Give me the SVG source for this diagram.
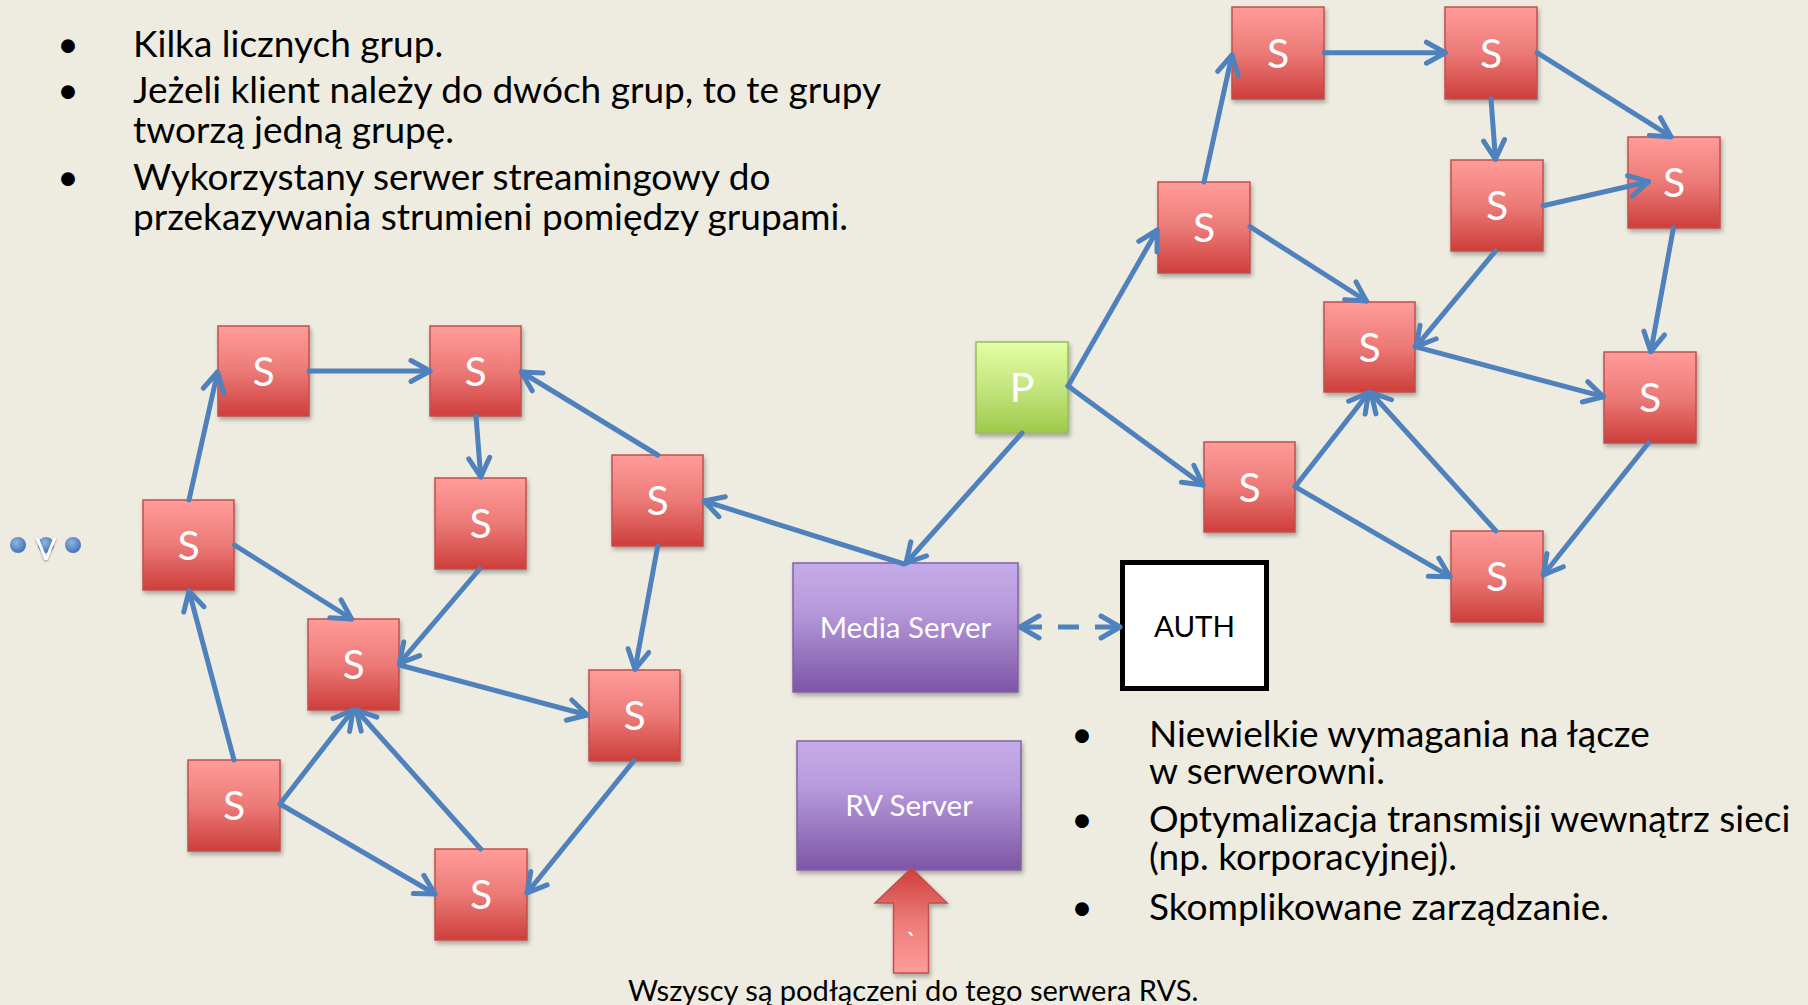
<svg xmlns="http://www.w3.org/2000/svg" width="1808" height="1005" viewBox="0 0 1808 1005">
  <defs>
    <style>
      .txt { font-family: Lato, "Liberation Sans", sans-serif; }
      .bul { font-family: Lato, "Liberation Sans", sans-serif; font-size: 37px; fill: #000; }
      .lbl { font-family: Lato, "Liberation Sans", sans-serif; font-size: 41px; fill: #fff; text-anchor: middle; }
      .srv { font-family: Lato, "Liberation Sans", sans-serif; font-size: 29.5px; fill: #fff; text-anchor: middle; }
      .snode { fill: url(#gRed); stroke: #c0504d; stroke-width: 1.5; filter: url(#shadow); }
      .pnode { fill: url(#gGreen); stroke: #9bbb59; stroke-width: 1.5; filter: url(#shadow); }
      .vnode { fill: url(#gPurple); stroke: #8064a2; stroke-width: 1.5; filter: url(#shadow); }
      .edge { fill: none; stroke: #4f81bd; stroke-width: 5; stroke-linecap: round; marker-end: url(#open); }
      .head { fill: none; stroke: #4f81bd; stroke-width: 5; stroke-linecap: round; stroke-linejoin: round; }
      .dot { fill: url(#gDot); }
    </style>
    <linearGradient id="gRed" x1="0" y1="0" x2="0" y2="1">
      <stop offset="0" stop-color="#ff9c9a"/>
      <stop offset="0.5" stop-color="#ec7a77"/>
      <stop offset="1" stop-color="#cd3e3a"/>
    </linearGradient>
    <linearGradient id="gRedUp" x1="0" y1="0" x2="0" y2="1">
      <stop offset="0" stop-color="#cd3e3a"/>
      <stop offset="0.5" stop-color="#ec7a77"/>
      <stop offset="1" stop-color="#ff9c9a"/>
    </linearGradient>
    <linearGradient id="gGreen" x1="0" y1="0" x2="0" y2="1">
      <stop offset="0" stop-color="#e2ffa4"/>
      <stop offset="0.5" stop-color="#c4e57f"/>
      <stop offset="1" stop-color="#9dca4a"/>
    </linearGradient>
    <linearGradient id="gPurple" x1="0" y1="0" x2="0" y2="1">
      <stop offset="0" stop-color="#c5aae9"/>
      <stop offset="0.35" stop-color="#b89bdc"/>
      <stop offset="1" stop-color="#7d56a6"/>
    </linearGradient>
    <radialGradient id="gDot" cx="0.4" cy="0.35" r="0.7">
      <stop offset="0" stop-color="#8fb4e6"/>
      <stop offset="1" stop-color="#3f6fb0"/>
    </radialGradient>
    <filter id="shadow" x="-10%" y="-10%" width="125%" height="130%">
      <feDropShadow dx="1.5" dy="3" stdDeviation="2" flood-color="#000" flood-opacity="0.3"/>
    </filter>
    <filter id="glyphShadow" x="-30%" y="-30%" width="160%" height="160%">
      <feDropShadow dx="0" dy="1" stdDeviation="1.2" flood-color="#3a4a60" flood-opacity="0.6"/>
    </filter>
    <marker id="open" markerUnits="userSpaceOnUse" orient="auto" overflow="visible" markerWidth="1" markerHeight="1" refX="0" refY="0">
      <path class="head" d="M-19,-10.5 L0,0 L-19,10.5"/>
    </marker>
    <marker id="openBoth" markerUnits="userSpaceOnUse" orient="auto-start-reverse" overflow="visible" markerWidth="1" markerHeight="1" refX="0" refY="0">
      <path class="head" d="M-19,-11 L0,0 L-19,11"/>
    </marker>
  </defs>

  <rect x="0" y="0" width="1808" height="1005" fill="#eeece1"/>

  <!-- upper-left bullet list -->
  <g id="notes-top" class="bul">
    <text x="68" y="57" text-anchor="middle">•</text>
    <text x="133" y="57">Kilka licznych grup.</text>
    <text x="68" y="103" text-anchor="middle">•</text>
    <text x="133" y="103">Jeżeli klient należy do dwóch grup, to te grupy</text>
    <text x="133" y="143">tworzą jedną grupę.</text>
    <text x="68" y="190" text-anchor="middle">•</text>
    <text x="133" y="190">Wykorzystany serwer streamingowy do</text>
    <text x="133" y="230">przekazywania strumieni pomiędzy grupami.</text>
  </g>

  <!-- lower-right bullet list -->
  <g id="notes-bottom" class="bul">
    <text x="1082" y="747" text-anchor="middle">•</text>
    <text x="1149" y="747">Niewielkie wymagania na łącze</text>
    <text x="1149" y="784">w serwerowni.</text>
    <text x="1082" y="832" text-anchor="middle">•</text>
    <text x="1149" y="832">Optymalizacja transmisji wewnątrz sieci</text>
    <text x="1149" y="870">(np. korporacyjnej).</text>
    <text x="1082" y="920" text-anchor="middle">•</text>
    <text x="1149" y="920">Skomplikowane zarządzanie.</text>
  </g>

  <!-- ellipsis marker on the left edge -->
  <g id="ellipsis">
    <circle class="dot" cx="18" cy="545" r="8"/>
    <circle class="dot" cx="46" cy="545" r="8"/>
    <circle class="dot" cx="73" cy="545" r="8"/>
    <text class="txt" x="46" y="560" font-size="31" fill="#fff" text-anchor="middle" filter="url(#glyphShadow)">V</text>
  </g>

  <!-- left cluster nodes -->
  <g id="s-a"><rect class="snode" x="218" y="326" width="91" height="90"/><text class="lbl" x="263.5" y="386">S</text></g>
  <g id="s-b"><rect class="snode" x="430" y="326" width="91" height="90"/><text class="lbl" x="475.5" y="386">S</text></g>
  <g id="s-c"><rect class="snode" x="435" y="478" width="91" height="91"/><text class="lbl" x="480.5" y="538">S</text></g>
  <g id="s-d"><rect class="snode" x="612" y="455" width="91" height="91"/><text class="lbl" x="657.5" y="515">S</text></g>
  <g id="s-e"><rect class="snode" x="143" y="500" width="91" height="90"/><text class="lbl" x="188.5" y="560">S</text></g>
  <g id="s-f"><rect class="snode" x="308" y="619" width="91" height="91"/><text class="lbl" x="353.5" y="679">S</text></g>
  <g id="s-g"><rect class="snode" x="589" y="670" width="91" height="91"/><text class="lbl" x="634.5" y="730">S</text></g>
  <g id="s-h"><rect class="snode" x="188" y="760" width="92" height="91"/><text class="lbl" x="234" y="820">S</text></g>
  <g id="s-i"><rect class="snode" x="435" y="849" width="92" height="91"/><text class="lbl" x="481" y="909">S</text></g>

  <!-- publisher -->
  <g id="p"><rect class="pnode" x="976" y="342" width="92" height="91"/><text class="lbl" x="1022" y="402">P</text></g>

  <!-- right cluster nodes -->
  <g id="s-k"><rect class="snode" x="1232" y="7" width="92" height="92"/><text class="lbl" x="1278" y="68">S</text></g>
  <g id="s-l"><rect class="snode" x="1445" y="7" width="92" height="92"/><text class="lbl" x="1491" y="68">S</text></g>
  <g id="s-m"><rect class="snode" x="1158" y="182" width="92" height="91"/><text class="lbl" x="1204" y="242">S</text></g>
  <g id="s-n"><rect class="snode" x="1451" y="160" width="92" height="91"/><text class="lbl" x="1497" y="220">S</text></g>
  <g id="s-o"><rect class="snode" x="1628" y="137" width="92" height="91"/><text class="lbl" x="1674" y="197">S</text></g>
  <g id="s-q"><rect class="snode" x="1324" y="302" width="91" height="90"/><text class="lbl" x="1369.5" y="362">S</text></g>
  <g id="s-r"><rect class="snode" x="1604" y="352" width="92" height="91"/><text class="lbl" x="1650" y="412">S</text></g>
  <g id="s-j"><rect class="snode" x="1204" y="442" width="91" height="90"/><text class="lbl" x="1249.5" y="502">S</text></g>
  <g id="s-t"><rect class="snode" x="1451" y="531" width="92" height="91"/><text class="lbl" x="1497" y="591">S</text></g>

  <!-- servers -->
  <g id="media-server"><rect class="vnode" x="793" y="563" width="225" height="129"/><text class="srv" x="905.5" y="638">Media Server</text></g>
  <g id="rv-server"><rect class="vnode" x="797" y="741" width="224" height="129"/><text class="srv" x="909" y="816">RV Server</text></g>
  <g id="auth"><rect x="1122.5" y="562.5" width="144" height="126" fill="#fff" stroke="#000" stroke-width="5"/><text class="txt" x="1194.5" y="637" font-size="29.5" text-anchor="middle" fill="#000">AUTH</text></g>

  <!-- connectors, drawn above the boxes so arrowheads stay visible -->
  <g id="connectors">
    <!-- left cluster -->
    <line class="edge" x1="309" y1="371" x2="430" y2="371"/>
    <line class="edge" x1="189" y1="500" x2="217.6" y2="372"/>
    <line class="edge" x1="476" y1="416" x2="480.7" y2="477"/>
    <line class="edge" x1="657.7" y1="455" x2="521.4" y2="372"/>
    <line class="edge" x1="234.4" y1="545" x2="351.6" y2="619"/>
    <line class="edge" x1="479.7" y1="569" x2="399.4" y2="663.3"/>
    <line class="edge" x1="399.4" y1="665" x2="587.4" y2="715"/>
    <line class="edge" x1="657.7" y1="546" x2="635" y2="669.3"/>
    <line class="edge" x1="234" y1="760" x2="189" y2="591"/>
    <line class="edge" x1="280" y1="804" x2="353" y2="710"/>
    <line class="edge" x1="280" y1="804" x2="435" y2="894"/>
    <line class="edge" x1="480.7" y1="849" x2="356.3" y2="710"/>
    <line class="edge" x1="633.7" y1="761" x2="527" y2="893"/>
    <!-- servers and publisher -->
    <line class="edge" x1="904" y1="564" x2="704" y2="501"/>
    <line class="edge" x1="1022" y1="433" x2="906" y2="563"/>
    <line class="edge" x1="1068" y1="386" x2="1203" y2="485"/>
    <line class="edge" x1="1068" y1="386" x2="1157.3" y2="230"/>
    <!-- right cluster -->
    <line class="edge" x1="1204" y1="182" x2="1232" y2="55"/>
    <line class="edge" x1="1324.4" y1="52.7" x2="1445.4" y2="52.7"/>
    <line class="edge" x1="1491" y1="99" x2="1495.5" y2="159.3"/>
    <line class="edge" x1="1537" y1="52.7" x2="1671" y2="136.7"/>
    <line class="edge" x1="1543" y1="205.7" x2="1648.5" y2="181.7"/>
    <line class="edge" x1="1250" y1="226.7" x2="1366.4" y2="301"/>
    <line class="edge" x1="1495.5" y1="251" x2="1416" y2="346.7"/>
    <line class="edge" x1="1673.4" y1="228" x2="1650.8" y2="351.7"/>
    <line class="edge" x1="1415" y1="346.7" x2="1603.4" y2="396.7"/>
    <line class="edge" x1="1295" y1="486.7" x2="1368.6" y2="392.7"/>
    <line class="edge" x1="1496" y1="531" x2="1371" y2="392.7"/>
    <line class="edge" x1="1295" y1="486.7" x2="1450" y2="576.7"/>
    <line class="edge" x1="1648.5" y1="443" x2="1543.3" y2="575"/>
    <!-- media server <-> auth -->
    <path d="M1120,627 L1020,627" fill="none" stroke="#4f81bd" stroke-width="5" stroke-dasharray="25 16 21 16 25" marker-start="url(#openBoth)" marker-end="url(#openBoth)"/>
  </g>

  <!-- block arrow pointing at the RV server -->
  <g id="rvs-arrow">
    <polygon points="911.5,868 947,903 928.5,903 928.5,973 893.5,973 893.5,903 875,903" fill="url(#gRedUp)" stroke="#c0504d" stroke-width="1.5" filter="url(#shadow)"/>
    <text class="txt" x="911.5" y="952" font-size="26" fill="#fff" text-anchor="middle">`</text>
  </g>

  <g id="caption">
    <text class="txt" x="628" y="1001" font-size="29.1" fill="#000">Wszyscy są podłączeni do tego serwera RVS.</text>
  </g>
</svg>
